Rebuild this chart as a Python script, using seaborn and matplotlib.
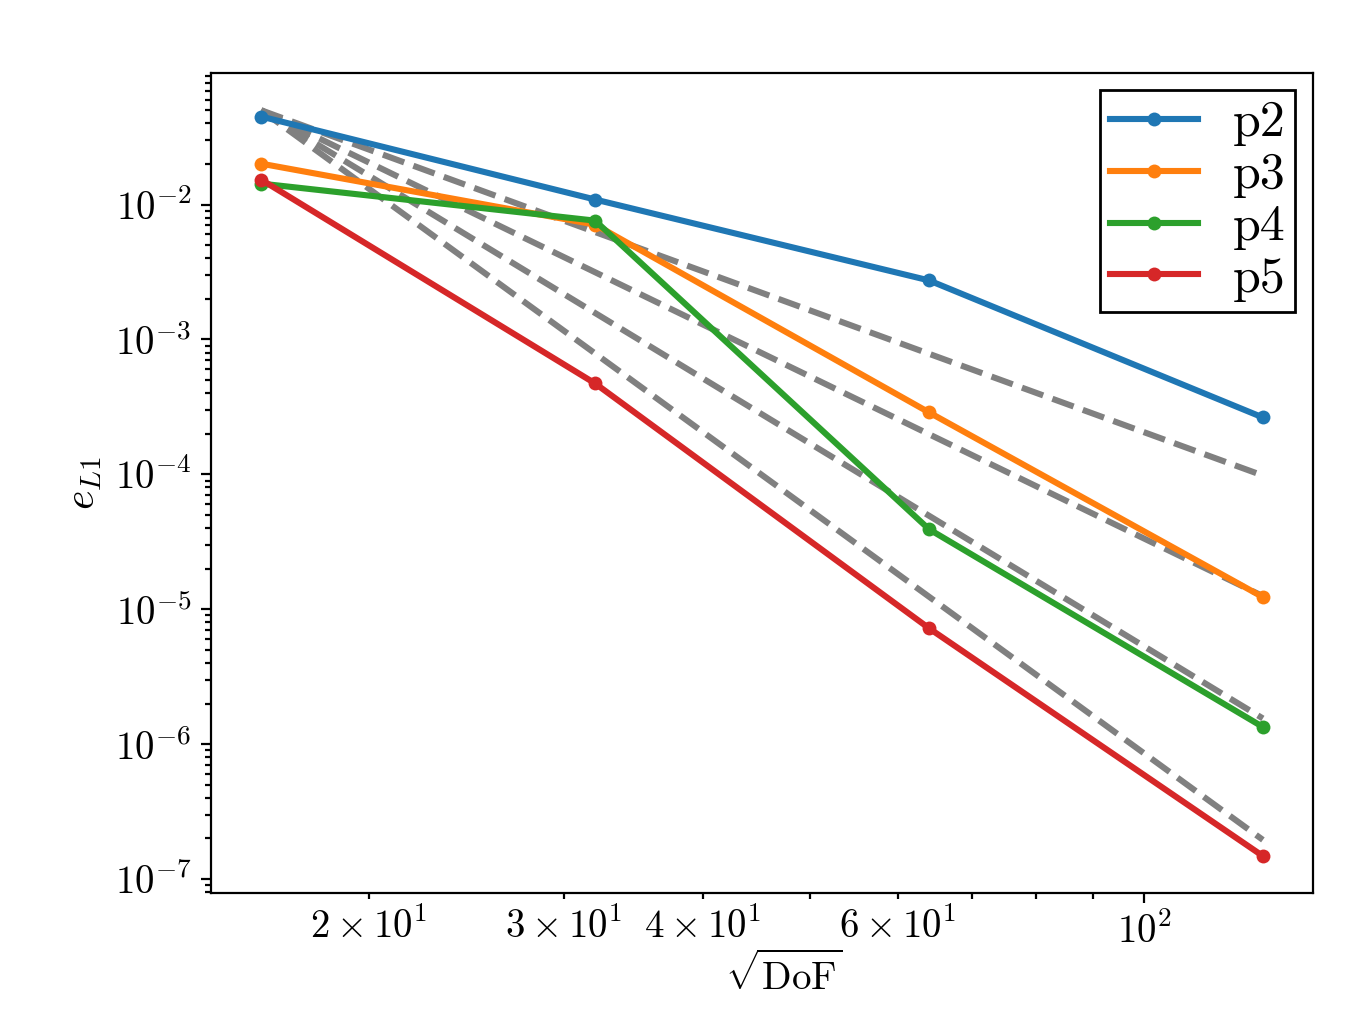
import numpy as np
import pandas as pd
import matplotlib
matplotlib.use('Agg')
import matplotlib.pyplot as plt
import seaborn as sns

# sqrt(DoF) for each refinement level
dof = [16, 32, 64, 128]

# L1 errors
err_p2 = [0.0449, 0.0109, 0.00274, 2.64e-4]
err_p3 = [0.0201, 0.0071, 2.88e-4, 1.23e-5]
err_p4 = [0.0143, 0.0076, 3.92e-5, 1.34e-6]
err_p5 = [0.0153, 4.72e-4, 7.23e-6, 1.48e-7]

# dashed reference slopes (start / end values)
ref_x = [16, 128]
ref_start = 0.05
ref_end = [9.8e-5, 1.25e-5, 1.55e-6, 1.95e-7]

df = pd.DataFrame({
    'dof': dof * 4,
    'err': err_p2 + err_p3 + err_p4 + err_p5,
    'order': ['p2'] * 4 + ['p3'] * 4 + ['p4'] * 4 + ['p5'] * 4,
})

plt.rcParams['font.family'] = 'serif'
plt.rcParams['font.serif'] = ['cmr10']
plt.rcParams['mathtext.fontset'] = 'cm'
plt.rcParams['axes.formatter.use_mathtext'] = True

fig, ax = plt.subplots(figsize=(6.81, 5.14), dpi=200)
fig.subplots_adjust(left=0.155, right=0.964, top=0.929, bottom=0.131)

for e in ref_end:
    sns.lineplot(x=ref_x, y=[ref_start, e], ax=ax, color='gray', lw=2.2,
                 linestyle='--', legend=False)

sns.lineplot(data=df, x='dof', y='err', hue='order', palette='tab10',
             marker='o', markersize=5, markeredgewidth=0, lw=2.2, ax=ax)

ax.set_xscale('log')
ax.set_yscale('log')
ax.set_xlabel(r'$\sqrt{\mathrm{DoF}}$', fontsize=14, labelpad=0.5)
ax.xaxis.label.set_x(0.52)
ax.set_ylabel(r'$e_{L1}$', fontsize=15)
ax.tick_params(which='both', labelsize=14, width=0.8)

leg = ax.legend(loc='upper right', fontsize=18, fancybox=False, framealpha=1,
                edgecolor='black', handlelength=1.75, handletextpad=0.7,
                labelspacing=0.12, borderpad=0.2, borderaxespad=0.35)
leg.get_frame().set_linewidth(1.0)

plt.savefig('out.png', dpi=200)
